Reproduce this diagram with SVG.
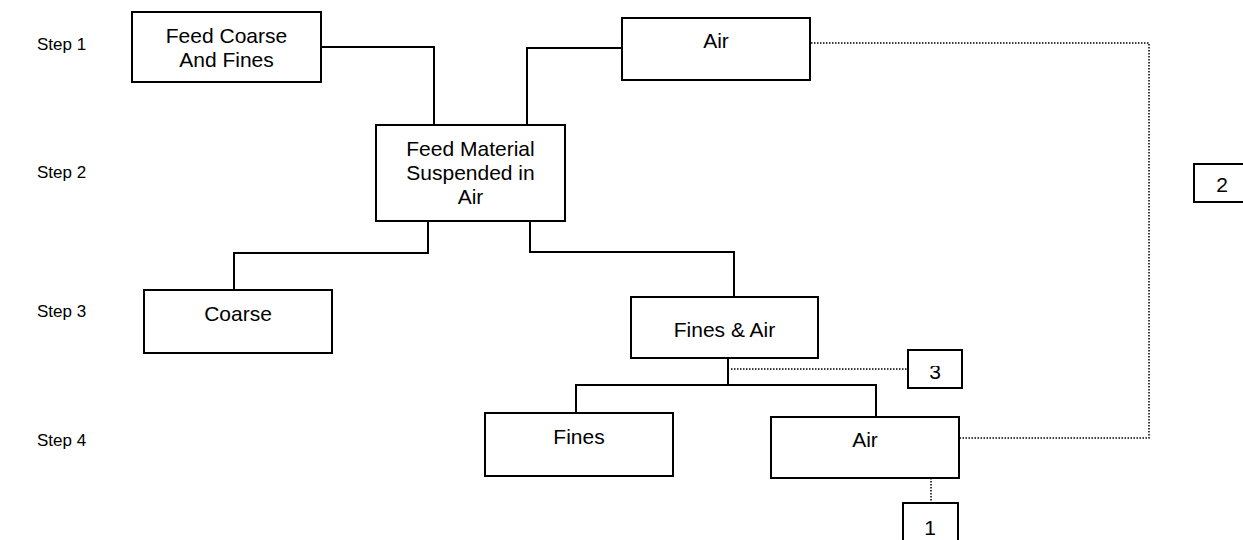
<svg xmlns="http://www.w3.org/2000/svg" width="1243" height="540" viewBox="0 0 1243 540">
<defs>
<style>
.box{fill:#fff;stroke:#000;stroke-width:2}
.t{font-family:"Liberation Sans",Arial,sans-serif;font-size:21px;fill:#000;text-anchor:middle}
.s{font-family:"Liberation Sans",Arial,sans-serif;font-size:17px;fill:#000}
.c{fill:none;stroke:#000;stroke-width:2}
.d{fill:none;stroke:#000;stroke-width:1.5;stroke-dasharray:1.5 1.5}
</style>
<clipPath id="clip3"><rect x="909" y="366" width="52" height="21"/></clipPath>
</defs>
<rect width="1243" height="540" fill="#fff"/>
<g id="step-labels">
<text class="s" x="37" y="50">Step 1</text>
<text class="s" x="37" y="178">Step 2</text>
<text class="s" x="37" y="317">Step 3</text>
<text class="s" x="37" y="446">Step 4</text>
</g>
<g id="connectors">
<polyline class="c" points="321,47 434,47 434,125"/>
<polyline class="c" points="622,48 527,48 527,125"/>
<polyline class="c" points="428,221 428,253 234,253 234,290"/>
<polyline class="c" points="530,221 530,252 734,252 734,297"/>
<polyline class="c" points="728,358 728,384"/>
<polyline class="c" points="576,413 576,385 876,385 876,417"/>
<polyline class="d" points="731,369 908,369"/>
<polyline class="d" points="811,43 1149,43 1149,438 959,438"/>
<polyline class="d" points="931,478 931,503"/>
</g>
<g id="feed-coarse">
<rect class="box" x="132" y="12" width="189" height="70"/>
<text class="t" x="226.5" y="43">Feed Coarse</text>
<text class="t" x="226.5" y="67">And Fines</text>
</g>
<g id="air-top">
<rect class="box" x="622" y="18" width="188" height="62"/>
<text class="t" x="716" y="48">Air</text>
</g>
<g id="feed-material">
<rect class="box" x="376" y="125" width="189" height="96"/>
<text class="t" x="470.5" y="156">Feed Material</text>
<text class="t" x="470.5" y="180">Suspended in</text>
<text class="t" x="470.5" y="204">Air</text>
</g>
<g id="coarse">
<rect class="box" x="144" y="290" width="188" height="63"/>
<text class="t" x="238" y="321">Coarse</text>
</g>
<g id="fines-air">
<rect class="box" x="631" y="297" width="187" height="61"/>
<text class="t" x="724.5" y="337">Fines &amp; Air</text>
</g>
<g id="fines">
<rect class="box" x="485" y="413" width="188" height="63"/>
<text class="t" x="579" y="444">Fines</text>
</g>
<g id="air-bottom">
<rect class="box" x="771" y="417" width="188" height="61"/>
<text class="t" x="865" y="447">Air</text>
</g>
<g id="box-3">
<rect class="box" x="908" y="350" width="54" height="38"/>
<text class="t" x="935" y="379" clip-path="url(#clip3)">3</text>
</g>
<g id="box-2">
<rect class="box" x="1194" y="164" width="60" height="38"/>
<text class="t" x="1222" y="192">2</text>
</g>
<g id="box-1">
<rect class="box" x="903" y="503" width="55" height="50"/>
<text class="t" x="930" y="535">1</text>
</g>
</svg>
